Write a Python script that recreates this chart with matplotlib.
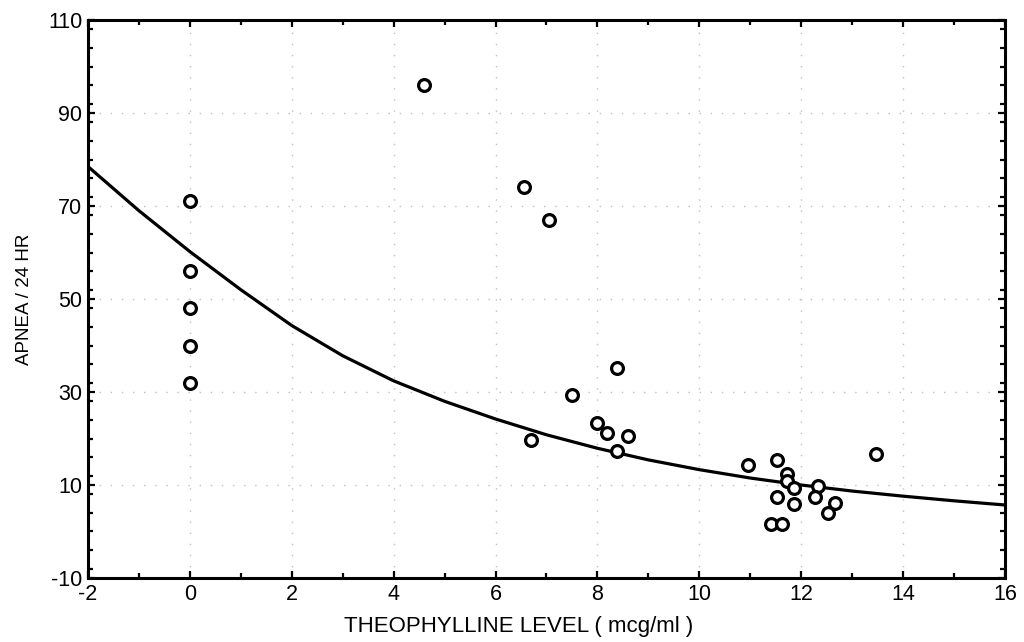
import numpy as np
import matplotlib
matplotlib.use('Agg')
import matplotlib.pyplot as plt
from matplotlib.ticker import MultipleLocator

plt.rcParams['font.family'] = ['Liberation Sans', 'DejaVu Sans']
plt.rcParams['axes.unicode_minus'] = False

# Puntos medidos (nivel de teofilina, apneas / 24 h)
theo_level = [0, 0, 0, 0, 0,
              4.6, 6.55, 7.05, 7.5, 8.38, 6.69, 7.99, 8.19, 8.6, 8.38,
              10.95, 11.53, 11.73, 11.73, 11.86, 12.34, 12.27, 11.53,
              11.86, 12.67, 12.52, 11.41, 11.63, 13.46]
apnea = [71, 56, 48, 40, 32,
         96, 74, 67, 29.3, 35.2, 19.7, 23.3, 21.2, 20.5, 17.4,
         14.4, 15.3, 12.3, 10.9, 9.4, 9.8, 7.4, 7.4,
         6.0, 6.1, 3.9, 1.7, 1.7, 16.7]

curve_x = list(range(-2, 17))
curve_y = [78.5, 69.0, 60.2, 52.0, 44.3, 37.8, 32.4, 28.0, 24.2, 20.8,
           17.9, 15.4, 13.3, 11.5, 10.0, 8.7, 7.6, 6.6, 5.7]

x_ticks = [-2, 0, 2, 4, 6, 8, 10, 12, 14, 16]
y_ticks = [-10, 10, 30, 50, 70, 90, 110]

fig = plt.figure(figsize=(10.24, 6.42), dpi=100)
ax = fig.add_axes([0.0859, 0.0997, 0.8955, 0.8691])

ax.grid(True, color='#c0c0c0', linestyle=(0, (1, 7)), linewidth=1.0)
ax.set_axisbelow(True)

ax.plot(curve_x, curve_y, color='black', linewidth=2.3, zorder=3)
ax.plot(theo_level, apnea, linestyle='none', marker='o', markersize=8.5,
        markerfacecolor='white', markeredgecolor='black',
        markeredgewidth=2.3, zorder=4)

ax.set_xlim(-2, 16)
ax.set_ylim(-10, 110)
ax.set_xticks(x_ticks)
ax.set_yticks(y_ticks)
ax.xaxis.set_minor_locator(MultipleLocator(1))
ax.yaxis.set_minor_locator(MultipleLocator(4))
ax.tick_params(which='both', direction='in', top=True, right=True,
               width=1.6, labelsize=15.5, pad=4)
ax.tick_params(which='major', length=5)
ax.tick_params(which='minor', length=3.5)

for s in ax.spines.values():
    s.set_linewidth(2.2)

ax.set_xlabel('THEOPHYLLINE LEVEL ( mcg/ml )', fontsize=16)
ax.xaxis.set_label_coords(0.47, -0.068)
ax.set_ylabel('APNEA / 24 HR', fontsize=13.5, labelpad=11)

fig.savefig('out.png', dpi=100)
